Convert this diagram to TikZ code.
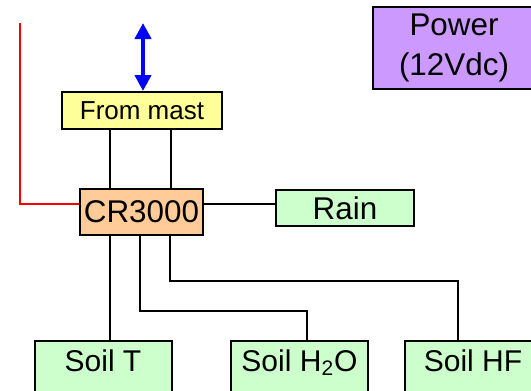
\documentclass[tikz,border=0pt]{standalone}
\usepackage{fontspec}
\setmainfont{Liberation Sans}
\usetikzlibrary{arrows.meta}
\definecolor{mastyellow}{HTML}{FFFF99}
\definecolor{crorange}{HTML}{FFCC99}
\definecolor{sensgreen}{HTML}{CCFFCC}
\definecolor{powpurple}{HTML}{CC99FF}

\begin{document}
\begin{tikzpicture}[x=0.5pt, y=-0.5pt,
  box/.style={draw=black, line width=1pt, inner sep=0pt, font=\fontsize{15.7}{20}\selectfont},
  soil/.style={box, fill=sensgreen, minimum width=68.5pt, minimum height=27pt, text height=11pt, text depth=8pt, font=\fontsize{15}{19}\selectfont},
  wire/.style={line width=1pt}]
\useasboundingbox (0,0) rectangle (531,391);
\clip (0,0) rectangle (531,391);

%% boxes
\node[box, fill=mastyellow, minimum width=80pt, minimum height=18.5pt, font=\fontsize{13}{16}\selectfont] (mast) at (142,110.5) {From mast};
\node[box, fill=crorange, minimum width=61.5pt, minimum height=23pt] (cr) at (141.5,212) {CR3000};
\node[box, fill=sensgreen, minimum width=69pt, minimum height=18pt] (rain) at (345,208) {Rain};
\node[box, fill=powpurple, minimum width=81pt, minimum height=41pt, align=center] (power) at (454,48) {Power\\(12Vdc)};

\node[soil] (soilT) at (103,368) {Soil T};
\node[soil] (soilW) at (299.5,368) {Soil H\textsubscript{2}O};
\node[soil] (soilHF) at (473,368) {Soil HF};

%% mast
\coordinate (redtop) at (20,23);
\coordinate (mastup) at (143,23);
\draw[red, wire] (redtop) |- (cr.west |- 0,204);
\draw[blue, line width=2pt, {Triangle[width=8pt,length=8pt]}-{Triangle[width=8pt,length=8pt]}] (mastup) -- (mast.north -| 143,0);
\draw[wire] (mast.south -| 110,0) -- (cr.north -| 110,0);
\draw[wire] (mast.south -| 171,0) -- (cr.north -| 171,0);

%% sensors
\draw[wire] (cr.east |- 0,204) -- (rain.west |- 0,204);
\draw[wire] (cr.south -| 110,0) -- (soilT.north -| 110,0);
\draw[wire] (cr.south -| 140,0) -- (140,311) -- (307,311) -- (soilW.north -| 307,0);
\draw[wire] (cr.south -| 170,0) -- (170,281) -- (458,281) -- (soilHF.north -| 458,0);
\end{tikzpicture}
\end{document}
